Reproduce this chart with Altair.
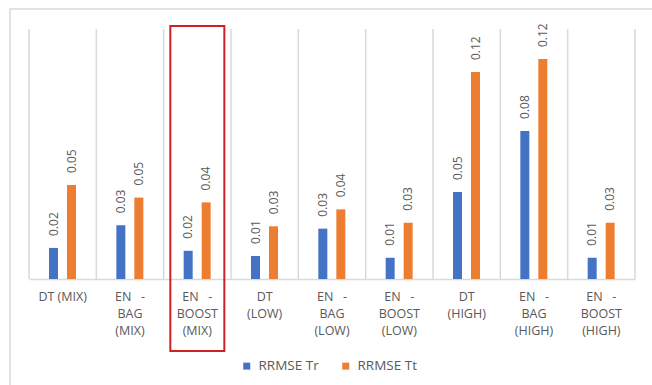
import altair as alt
import pandas as pd

NB = "\u00a0"
categories = [
    "DT (MIX)",
    f"EN{NB*3}-|BAG|(MIX)",
    f"EN{NB*3}-|BOOST|(MIX)",
    "DT|(LOW)",
    f"EN{NB*3}-|BAG|(LOW)",
    f"EN{NB*3}-|BOOST|(LOW)",
    "DT|(HIGH)",
    f"EN{NB*3}-|BAG|(HIGH)",
    f"EN{NB*3}-|BOOST|(HIGH)",
]
rrmse_tr = [0.0174, 0.0301, 0.0158, 0.0129, 0.0282, 0.0119, 0.0487, 0.0829, 0.0119]
rrmse_tt = [0.0526, 0.0456, 0.0429, 0.0295, 0.0390, 0.0315, 0.1159, 0.1232, 0.0315]
series = ["RRMSE Tr", "RRMSE Tt"]
colors = ["#4472C4", "#ED7D31"]
highlight = [categories[2]]

rows = []
for c, a, b in zip(categories, rrmse_tr, rrmse_tt):
    rows.append({"cat": c, "series": series[0], "value": a})
    rows.append({"cat": c, "series": series[1], "value": b})
df = pd.DataFrame(rows)
cat_df = pd.DataFrame({"cat": categories})
last_df = pd.DataFrame({"cat": categories[-1:]})
hl_df = pd.DataFrame({"cat": highlight})
one_df = pd.DataFrame({"a": [0]})

GRAY = "#595959"
axis = alt.Axis(
    title=None, labelAngle=0, labelExpr="split(datum.label, '|')",
    labelFontSize=12.5, labelColor=GRAY, labelFont="Open Sans",
    labelPadding=11, labelBaseline="top", labelLineHeight=17,
    ticks=False, domainColor="#D9D9D9", domainWidth=1.5, grid=False, labelLimit=0,
)
xscale = alt.Scale(paddingInner=0, paddingOuter=0)


def X(**kw):
    return alt.X("cat:N", sort=categories, scale=xscale, axis=axis, **kw)


yenc = alt.Y("value:Q", scale=alt.Scale(domain=[0, 0.14], nice=False), axis=None)
xoff = alt.XOffset("series:N", sort=series,
                   scale=alt.Scale(range=[20, 47], paddingInner=0.5, paddingOuter=0))

frame = alt.Chart(one_df).mark_rect(
    fillOpacity=0, stroke="#D9D9D9", strokeWidth=1.5
).encode(x=alt.value(-19), x2=alt.value(700), y=alt.value(-20), y2=alt.value(420))

grid1 = alt.Chart(cat_df).mark_rule(color="#D9D9D9", strokeWidth=1.5).encode(
    x=X(bandPosition=0), y=alt.value(0), y2=alt.value(250)
)
grid2 = alt.Chart(last_df).mark_rule(color="#D9D9D9", strokeWidth=1.5).encode(
    x=X(bandPosition=1), y=alt.value(0), y2=alt.value(250)
)

bars = alt.Chart(df).mark_bar().encode(
    x=X(),
    xOffset=xoff,
    y=yenc,
    color=alt.Color(
        "series:N", sort=series,
        scale=alt.Scale(domain=series, range=colors),
        legend=alt.Legend(
            title=None, orient="none", legendX=211, legendY=330,
            direction="horizontal", symbolType="square", symbolSize=49,
            symbolStrokeWidth=0, labelFontSize=13.5, labelColor=GRAY,
            labelFont="Open Sans", columnPadding=20, labelOffset=5,
        ),
    ),
)

labels = alt.Chart(df).mark_text(
    angle=270, align="left", baseline="middle", dx=12,
    fontSize=12, color=GRAY, font="Open Sans",
).encode(
    x=X(), xOffset=xoff, y=yenc,
    text=alt.Text("value:Q", format=".2f"),
)

red = alt.Chart(hl_df).mark_bar(
    fillOpacity=0, stroke="#CC2222", strokeWidth=2, width=54
).encode(x=X(), y=alt.value(-3), y2=alt.value(322))

chart = alt.layer(frame, grid1, grid2, bars, labels, red).properties(
    width=606, height=250,
    padding={"left": 29, "top": 29, "right": 17, "bottom": 106},
    autosize=alt.AutoSizeParams(type="none"),
    background="white",
).configure_view(stroke=None)

chart.save("out.html", embed_options={"renderer": "svg", "actions": False})
